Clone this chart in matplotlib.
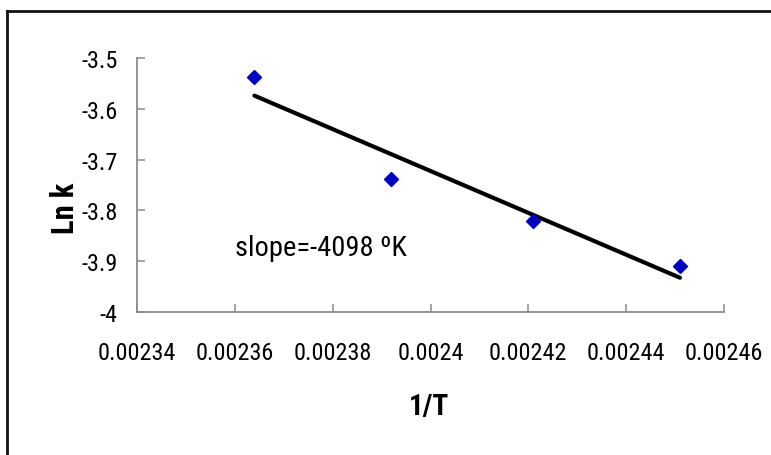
import numpy as np
import matplotlib.pyplot as plt
from matplotlib.lines import Line2D

plt.rcParams['font.family'] = ['Roboto Condensed', 'DejaVu Sans']

# data (1/T in 1/K, ln k)
inv_T = [0.002364, 0.002392, 0.002421, 0.002451]
ln_k = [-3.537, -3.738, -3.821, -3.909]

x_ticks = [0.00234, 0.00236, 0.00238, 0.0024, 0.00242, 0.00244, 0.00246]
x_labels = ['0.00234', '0.00236', '0.00238', '0.0024', '0.00242', '0.00244', '0.00246']
y_ticks = [-4, -3.9, -3.8, -3.7, -3.6, -3.5]
y_labels = ['-4', '-3.9', '-3.8', '-3.7', '-3.6', '-3.5']

slope_text = 'slope=-4098 \u00baK'

W, H = 771, 456
fig = plt.figure(figsize=(W / 100, H / 100), dpi=100)
ax = fig.add_axes([137 / W, 1 - 313 / H, 587 / W, 254 / H])

# linear trend line (least squares)
p = np.polyfit(inv_T, ln_k, 1)
xf = np.array([inv_T[0], inv_T[-1]])
ax.plot(xf, np.polyval(p, xf), color='black', lw=3, solid_capstyle='round', zorder=2)
ax.plot(inv_T, ln_k, 'D', color='#0000c0', ms=7.3, mec='#0000c0', zorder=3)

ax.set_xlim(0.00234, 0.00246)
ax.set_ylim(-4, -3.5)
ax.set_xticks(x_ticks)
ax.set_xticklabels(x_labels, fontsize=17.5)
ax.set_yticks(y_ticks)
ax.set_yticklabels(y_labels, fontsize=17.5)

for s in ['top', 'right']:
    ax.spines[s].set_visible(False)
for s in ['left', 'bottom']:
    ax.spines[s].set_color('#8c8c8c')
    ax.spines[s].set_linewidth(1.3)
ax.tick_params(axis='both', direction='in', length=6, width=1.1, color='#8c8c8c')
ax.tick_params(axis='x', pad=21)
ax.tick_params(axis='y', pad=14)

ax.set_xlabel('1/T', fontsize=21, fontweight='bold', va='center')
ax.xaxis.set_label_coords(0.497, -0.370)
ax.set_ylabel('Ln k', fontsize=22, fontweight='bold', va='center', ha='center')
ax.yaxis.set_label_coords(-0.1227, 0.413)

ax.text(0.167, 0.224, slope_text, transform=ax.transAxes, fontsize=20.5,
        ha='left', va='baseline')

# outer frame (right and bottom edges fall outside the picture)
fig.add_artist(Line2D([7 / W, 7 / W], [0, 1 - 12 / H], transform=fig.transFigure,
                      color='#111111', lw=2))
fig.add_artist(Line2D([7 / W, 1], [1 - 12 / H, 1 - 12 / H], transform=fig.transFigure,
                      color='#111111', lw=2))

fig.savefig('out.png', dpi=100)
